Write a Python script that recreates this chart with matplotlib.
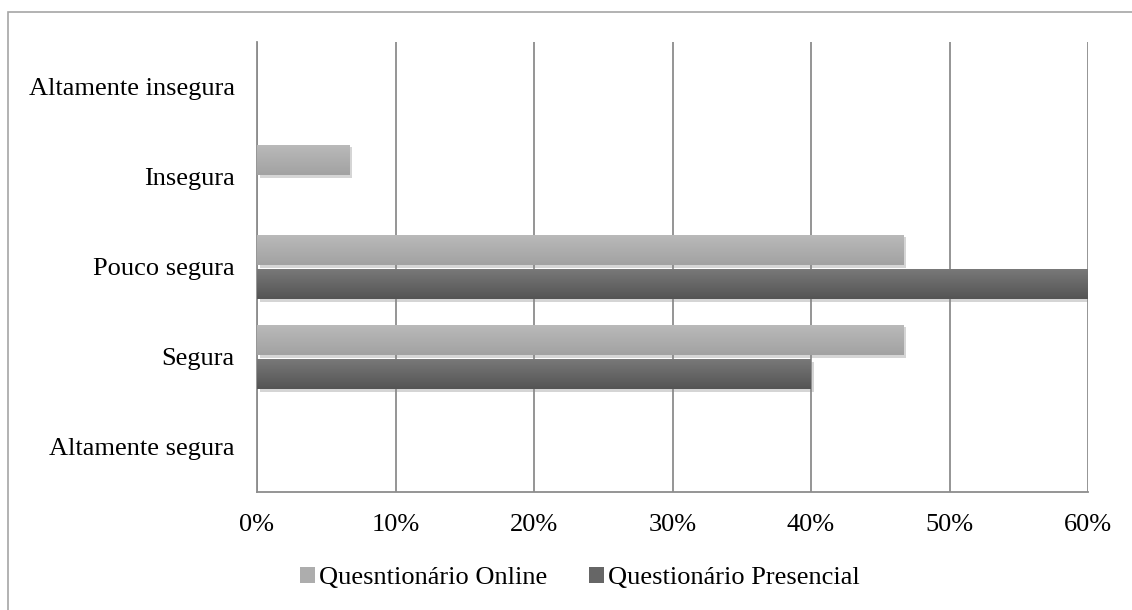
import numpy as np
import matplotlib.pyplot as plt
from matplotlib.patches import Rectangle, Patch
import matplotlib.patheffects as pe

plt.rcParams['font.family'] = ['Liberation Serif', 'DejaVu Serif']

categories = ['Altamente insegura', 'Insegura', 'Pouco segura', 'Segura', 'Altamente segura']
online = [0.0, 6.67, 46.67, 46.67, 0.0]
presencial = [0.0, 0.0, 60.0, 40.0, 0.0]
series_names = ['Quesntionário Online', 'Questionário Presencial']
xticks = [0, 10, 20, 30, 40, 50, 60]

fig = plt.figure(figsize=(11.32, 6.10), dpi=100)
ax = fig.add_axes([257 / 1132, (610 - 492) / 610, 831 / 1132, 450 / 610])

# outer chart border (cut by the image edges on right/bottom)
fig.patches.append(Rectangle((8 / 1132, -0.1), 1.2, (610 - 12) / 610 + 0.1,
                             transform=fig.transFigure, fill=False,
                             edgecolor='#a6a6a6', linewidth=1.2))

y = np.arange(len(categories))
h = 0.34
off = 0.19

shadow = [pe.SimplePatchShadow(offset=(2, -2), shadow_rgbFace='#888888', alpha=0.35), pe.Normal()]

def grad_bars(ypos, vals, top, bottom):
    bars = ax.barh(ypos, vals, height=h, color=bottom, zorder=3)
    grad = np.linspace(0, 1, 64).reshape(-1, 1)
    c0 = np.array(plt.matplotlib.colors.to_rgb(top))
    c1 = np.array(plt.matplotlib.colors.to_rgb(bottom))
    img = c0 + (c1 - c0) * grad[:, :, None]
    for b in bars:
        b.set_path_effects(shadow)
        if b.get_width() <= 0:
            continue
        x0, y0 = b.get_x(), b.get_y()
        im = ax.imshow(img, extent=[x0, x0 + b.get_width(), y0 + b.get_height(), y0],
                       aspect='auto', zorder=4, interpolation='bilinear')
        im.set_clip_path(b)
    return bars

grad_bars(y - off, online, '#bababa', '#a2a2a2')
grad_bars(y + off, presencial, '#7a7a7a', '#545454')

ax.set_xlim(0, 60)
ax.set_ylim(len(categories) - 0.5, -0.5)
ax.set_xticks(xticks)
ax.set_xticklabels([f'{v}%' for v in xticks])
ax.set_yticks(y)
ax.set_yticklabels(categories)
ax.tick_params(axis='both', length=0, labelsize=19, colors='black')
ax.tick_params(axis='x', pad=16)
ax.tick_params(axis='y', pad=16)
ax.grid(axis='x', color='#8c8c8c', linewidth=1.3, zorder=1)
ax.set_axisbelow(True)
for s in ['top', 'right']:
    ax.spines[s].set_visible(False)
for s in ['left', 'bottom']:
    ax.spines[s].set_color('#8c8c8c')
    ax.spines[s].set_linewidth(1.3)

handles = [Patch(facecolor='#adadad', edgecolor='none'),
           Patch(facecolor='#666666', edgecolor='none')]
fig.legend(handles, series_names, loc='center', bbox_to_anchor=(580 / 1132, 1 - 578 / 610),
           ncol=2, frameon=False, fontsize=19, handlelength=0.55, handleheight=0.55,
           handletextpad=0.15, columnspacing=1.6)

fig.savefig('out.png', dpi=100, facecolor='white')
